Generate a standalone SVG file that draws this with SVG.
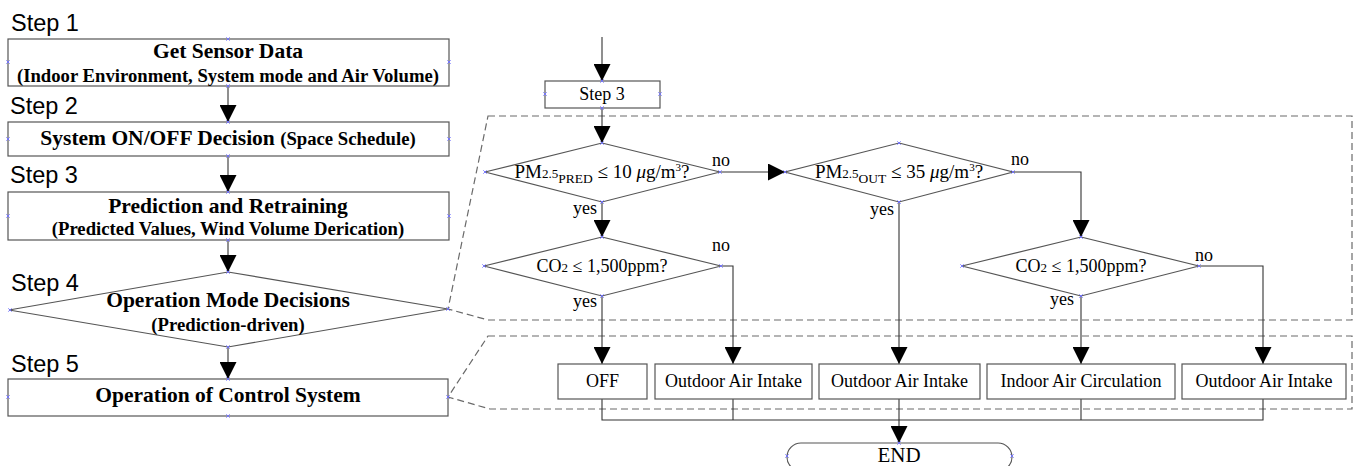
<svg xmlns="http://www.w3.org/2000/svg" xmlns:xlink="http://www.w3.org/1999/xlink" width="1357" height="466" viewBox="0 0 1357 466">
<style>
.box{fill:#fff;stroke:#555;stroke-width:1.2}
.dash{fill:none;stroke:#6a6a6a;stroke-width:1.2;stroke-dasharray:7,4}
.con{fill:none;stroke:#333;stroke-width:1.1}
.step{font-family:"Liberation Sans",Arial,sans-serif;font-size:23.5px;fill:#000}
.bt{font-family:"Liberation Serif","Times New Roman",serif;font-weight:bold;font-size:21.5px;fill:#000;text-anchor:middle}
.bs{font-family:"Liberation Serif","Times New Roman",serif;font-weight:bold;font-size:18.7px;fill:#000;text-anchor:middle}
.t{font-family:"Liberation Serif","Times New Roman",serif;font-size:18px;fill:#000;text-anchor:middle}
.lb{font-family:"Liberation Serif","Times New Roman",serif;font-size:18px;fill:#000}
.cx{stroke:#7070ff;stroke-width:0.9;fill:none}
</style>
<defs>
<marker id="ah" markerUnits="userSpaceOnUse" markerWidth="17" markerHeight="17" refX="17" refY="8.5" orient="auto">
<path d="M0,0 L17,8.5 L0,17 z" fill="#000"/>
</marker>
<symbol id="x" overflow="visible"><path class="cx" d="M-1.7,-1.7 L1.7,1.7 M-1.7,1.7 L1.7,-1.7"/></symbol>
</defs>

<g id="regions">
<polygon class="dash" points="488,116 1352,116 1352,320 488,320 448,309"/>
<polygon class="dash" points="488,336 1352,336 1352,409 490,409 448,397"/>
</g>

<g id="connectors">
<line class="con" x1="228" y1="86" x2="228" y2="122" marker-end="url(#ah)"/>
<line class="con" x1="228" y1="156" x2="228" y2="192" marker-end="url(#ah)"/>
<line class="con" x1="228" y1="240" x2="228" y2="272" marker-end="url(#ah)"/>
<line class="con" x1="228" y1="347" x2="228" y2="379" marker-end="url(#ah)"/>
<line class="con" x1="602" y1="37" x2="602" y2="81" marker-end="url(#ah)"/>
<line class="con" x1="602" y1="108" x2="602" y2="143" marker-end="url(#ah)"/>
<line class="con" x1="720" y1="172" x2="785" y2="172" marker-end="url(#ah)"/>
<line class="con" x1="602" y1="202" x2="602" y2="237" marker-end="url(#ah)"/>
<line class="con" x1="602" y1="296" x2="602" y2="364" marker-end="url(#ah)"/>
<polyline class="con" points="721,266 733,266 733,364" marker-end="url(#ah)"/>
<line class="con" x1="899" y1="202" x2="899" y2="364" marker-end="url(#ah)"/>
<polyline class="con" points="1013,172 1081,172 1081,237" marker-end="url(#ah)"/>
<line class="con" x1="1081" y1="296" x2="1081" y2="364" marker-end="url(#ah)"/>
<polyline class="con" points="1199,266 1263,266 1263,364" marker-end="url(#ah)"/>
<polyline class="con" points="602,399 602,420 1263,420 1263,399"/>
<line class="con" x1="733" y1="399" x2="733" y2="420"/>
<line class="con" x1="1081" y1="399" x2="1081" y2="420"/>
<line class="con" x1="899" y1="399" x2="899" y2="443" marker-end="url(#ah)"/>
</g>

<g id="step-labels">
<text class="step" x="11" y="31">Step 1</text>
<text class="step" x="10" y="114">Step 2</text>
<text class="step" x="10" y="183">Step 3</text>
<text class="step" x="11" y="291">Step 4</text>
<text class="step" x="11" y="372">Step 5</text>
</g>

<g id="step1">
<rect class="box" x="8" y="39" width="441" height="47"/>
<text class="bt" x="228" y="58">Get Sensor Data</text>
<text class="bs" x="228" y="82">(Indoor Environment, System mode and Air Volume)</text>
</g>
<g id="step2">
<rect class="box" x="8" y="122" width="441" height="34"/>
<text class="bt" x="228" y="145">System ON/OFF Decision <tspan style="font-size:18.7px">(Space Schedule)</tspan></text>
</g>
<g id="step3">
<rect class="box" x="8" y="192" width="441" height="48"/>
<text class="bt" x="228" y="213">Prediction and Retraining</text>
<text class="bs" x="228" y="235">(Predicted Values, Wind Volume Derication)</text>
</g>
<g id="step4">
<polygon class="box" points="228,272 448,309 228,347 9,310"/>
<text class="bt" x="228" y="307">Operation Mode Decisions</text>
<text class="bs" x="228" y="331">(Prediction-driven)</text>
</g>
<g id="step5">
<rect class="box" x="8" y="379" width="440" height="37"/>
<text class="bt" x="228" y="402">Operation of Control System</text>
</g>

<g id="r-step3">
<rect class="box" x="545" y="81" width="115" height="27"/>
<text class="t" x="602" y="100">Step 3</text>
</g>

<g id="d-pm-pred">
<polygon class="box" points="602,143 720,172 602,202 485,172"/>
<text class="t" x="602" y="178" style="font-size:19px">PM<tspan font-size="13">2.5</tspan><tspan font-size="13.5" dy="5">PRED</tspan><tspan dy="-5"> ≤ 10 </tspan><tspan font-style="italic">μ</tspan>g/m<tspan font-size="11" dy="-7">3</tspan><tspan dy="7">?</tspan></text>
<text class="lb" x="712" y="166">no</text>
<text class="lb" x="573" y="214">yes</text>
</g>

<g id="d-pm-out">
<polygon class="box" points="899,143 1013,172 899,202 785,172"/>
<text class="t" x="899" y="178" style="font-size:19px">PM<tspan font-size="13">2.5</tspan><tspan font-size="13.5" dy="5">OUT</tspan><tspan dy="-5"> ≤ 35 </tspan><tspan font-style="italic">μ</tspan>g/m<tspan font-size="11" dy="-7">3</tspan><tspan dy="7">?</tspan></text>
<text class="lb" x="1011" y="165">no</text>
<text class="lb" x="870" y="215">yes</text>
</g>

<g id="d-co2-a">
<polygon class="box" points="602,237 721,266 602,296 484,266"/>
<text class="t" x="602" y="272">CO<tspan font-size="13">2</tspan> ≤ 1,500ppm?</text>
<text class="lb" x="712" y="251">no</text>
<text class="lb" x="573" y="307">yes</text>
</g>

<g id="d-co2-b">
<polygon class="box" points="1081,237 1199,266 1081,296 962,266"/>
<text class="t" x="1081" y="272">CO<tspan font-size="13">2</tspan> ≤ 1,500ppm?</text>
<text class="lb" x="1195" y="261">no</text>
<text class="lb" x="1050" y="305">yes</text>
</g>

<g id="o-off">
<rect class="box" x="558" y="364" width="89" height="35"/>
<text class="t" x="602.5" y="387">OFF</text>
</g>
<g id="o-oai1">
<rect class="box" x="655" y="364" width="157" height="35"/>
<text class="t" x="733.5" y="387">Outdoor Air Intake</text>
</g>
<g id="o-oai2">
<rect class="box" x="819" y="364" width="161" height="35"/>
<text class="t" x="899.5" y="387">Outdoor Air Intake</text>
</g>
<g id="o-iac">
<rect class="box" x="987" y="364" width="188" height="35"/>
<text class="t" x="1081" y="387">Indoor Air Circulation</text>
</g>
<g id="o-oai3">
<rect class="box" x="1182" y="364" width="164" height="35"/>
<text class="t" x="1264" y="387">Outdoor Air Intake</text>
</g>

<g id="end">
<rect class="box" x="787" y="443" width="225" height="28" rx="14" ry="14"/>
<text class="t" x="899" y="462" style="font-size:21px">END</text>
</g>

<g id="conn-points">
<use xlink:href="#x" x="228" y="39"/><use xlink:href="#x" x="8" y="62"/><use xlink:href="#x" x="449" y="62"/><use xlink:href="#x" x="228" y="86"/>
<use xlink:href="#x" x="228" y="122"/><use xlink:href="#x" x="8" y="139"/><use xlink:href="#x" x="449" y="139"/><use xlink:href="#x" x="228" y="156"/>
<use xlink:href="#x" x="228" y="192"/><use xlink:href="#x" x="8" y="216"/><use xlink:href="#x" x="449" y="216"/><use xlink:href="#x" x="228" y="240"/>
<use xlink:href="#x" x="228" y="272"/><use xlink:href="#x" x="10" y="310"/><use xlink:href="#x" x="448" y="309"/><use xlink:href="#x" x="228" y="347"/>
<use xlink:href="#x" x="228" y="379"/><use xlink:href="#x" x="8" y="397"/><use xlink:href="#x" x="448" y="397"/><use xlink:href="#x" x="228" y="416"/>
<use xlink:href="#x" x="602" y="81"/><use xlink:href="#x" x="545" y="94"/><use xlink:href="#x" x="660" y="94"/><use xlink:href="#x" x="602" y="108"/>
<use xlink:href="#x" x="602" y="143"/><use xlink:href="#x" x="720" y="172"/><use xlink:href="#x" x="602" y="202"/><use xlink:href="#x" x="485" y="172"/>
<use xlink:href="#x" x="899" y="143"/><use xlink:href="#x" x="1013" y="172"/><use xlink:href="#x" x="899" y="202"/><use xlink:href="#x" x="785" y="172"/>
<use xlink:href="#x" x="602" y="237"/><use xlink:href="#x" x="721" y="266"/><use xlink:href="#x" x="602" y="296"/><use xlink:href="#x" x="484" y="266"/>
<use xlink:href="#x" x="1081" y="237"/><use xlink:href="#x" x="1199" y="266"/><use xlink:href="#x" x="1081" y="296"/><use xlink:href="#x" x="962" y="266"/>
<use xlink:href="#x" x="899" y="443"/><use xlink:href="#x" x="787" y="456"/><use xlink:href="#x" x="1012" y="456"/>
</g>
</svg>
